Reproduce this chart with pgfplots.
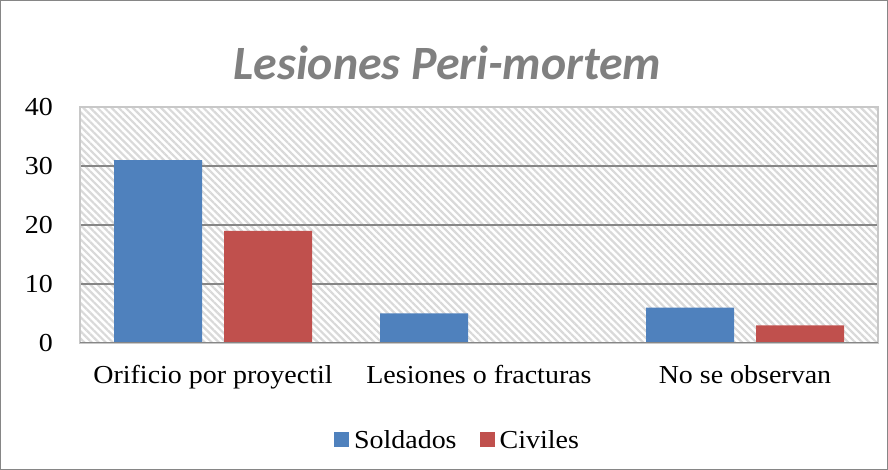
\documentclass[border=0pt]{standalone}
\usepackage{pgfplots}
\pgfplotsset{compat=1.18}
\usetikzlibrary{patterns.meta}
\usepackage{fontspec}
\setmainfont{Liberation Serif}[FakeStretch=1.08]
\newfontfamily\titlefont{Carlito}
\definecolor{soldados}{HTML}{4F81BD}
\definecolor{civiles}{HTML}{C0504D}
\definecolor{titlegray}{HTML}{808080}
\definecolor{framegray}{HTML}{868686}
\definecolor{gridgray}{HTML}{868686}
\definecolor{hatch}{HTML}{D9D9D9}
\definecolor{lightaxis}{HTML}{C8C8C8}
\begin{document}
\begin{tikzpicture}
\useasboundingbox (0bp,0bp) rectangle (888bp,470bp);
\fill[white] (0bp,0bp) rectangle (888bp,470bp);
\draw[framegray, line width=1.3bp] (0.65bp,0.65bp) rectangle (887.35bp,469.35bp);
\node[anchor=base, text=titlegray, font=\titlefont\fontsize{48}{50}\selectfont\bfseries\itshape] at (447.5bp,390bp) {Lesiones Peri-mortem};
\begin{axis}[
  at={(80bp,127bp)}, anchor=south west,
  scale only axis, width=798bp, height=236bp,
  ybar, bar width=88bp,
  xmin=-0.5, xmax=2.5, ymin=0, ymax=40,
  xtick={0,1,2},
  xticklabels={Orificio por proyectil, Lesiones o fracturas, No se observan},
  ytick={0,10,20,30},
  extra y ticks={40}, extra y tick style={grid=none},
  major tick length=0pt,
  ymajorgrids,
  grid style={gridgray, line width=1.3bp},
  axis line style={lightaxis, line width=1.3bp},
  axis background/.style={preaction={fill=white}, pattern={Lines[angle=-45,distance=5bp,line width=2.2bp]}, pattern color=hatch},
  /pgf/number format/assume math mode=true,
  tick label style={font=\fontsize{26}{30}\selectfont, inner sep=0pt},
  yticklabel style={anchor=east, xshift=-27bp},
  xticklabel style={anchor=north, yshift=-22bp},
  legend style={at={(0.473,-0.411)}, anchor=center, legend columns=2, draw=none, fill=none,
    font=\fontsize{26}{30}\selectfont,
    /tikz/every even column/.append style={column sep=21bp}},
  legend image code/.code={\path[#1, draw=none] (0bp,-7.5bp) rectangle (15bp,7.5bp); \path (18bp,0bp);},
]
\addplot[fill=soldados, draw=none, bar shift=-55bp] coordinates {(0,31) (1,5) (2,6)};
\addplot[fill=civiles, draw=none, bar shift=55bp] coordinates {(0,19) (1,0) (2,3)};
\legend{Soldados, Civiles}
\draw[gridgray, line width=1.3bp] (axis cs:-0.5,0) -- (axis cs:2.5,0);
\end{axis}
\end{tikzpicture}
\end{document}
